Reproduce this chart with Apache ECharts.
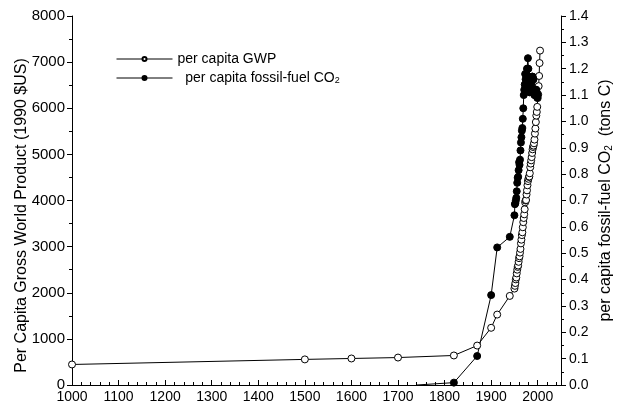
<!DOCTYPE html>
<html>
<head>
<meta charset="utf-8">
<script src="https://cdn.jsdelivr.net/npm/echarts@6/dist/echarts.min.js"></script>
<style>
  html, body { margin: 0; padding: 0; background: #fff; }
  #main { width: 619px; height: 407px; }
</style>
</head>
<body>
<div id="main"></div>
<script>
// per capita GWP (1990 $US)
var gwpYears = [1000, 1500, 1600, 1700, 1820, 1870, 1900, 1913, 1940,
    1950, 1951, 1952, 1953, 1954, 1955, 1956, 1957, 1958, 1959,
    1960, 1961, 1962, 1963, 1964, 1965, 1966, 1967, 1968, 1969,
    1970, 1971, 1972, 1973, 1974, 1975, 1976, 1977, 1978, 1979,
    1980, 1981, 1982, 1983, 1984, 1985, 1986, 1987, 1988, 1989,
    1990, 1991, 1992, 1993, 1994, 1995, 1996, 1997, 1998, 1999,
    2000, 2001, 2002, 2003, 2004, 2005];
var gwpValues = [445, 555, 575, 595, 640, 855, 1240, 1527, 1931,
    2090, 2150, 2210, 2290, 2330, 2420, 2500, 2560, 2590, 2670,
    2750, 2790, 2870, 2950, 3070, 3150, 3250, 3310, 3420, 3530,
    3620, 3700, 3810, 3960, 4000, 4010, 4130, 4220, 4330, 4420,
    4470, 4510, 4520, 4590, 4720, 4800, 4870, 4940, 5030, 5110,
    5160, 5190, 5240, 5320, 5450, 5560, 5700, 5840, 5920, 6030,
    6220, 6300, 6480, 6700, 6980, 7250];

// per capita fossil-fuel CO2 (tons C)
var co2Years = [1740, 1820, 1870, 1900, 1913, 1940,
    1950, 1951, 1952, 1953, 1954, 1955, 1956, 1957, 1958, 1959,
    1960, 1961, 1962, 1963, 1964, 1965, 1966, 1967, 1968, 1969,
    1970, 1971, 1972, 1973, 1974, 1975, 1976, 1977, 1978, 1979,
    1980, 1981, 1982, 1983, 1984, 1985, 1986, 1987, 1988, 1989,
    1990, 1991, 1992, 1993, 1994, 1995, 1996, 1997, 1998, 1999, 2000];
var co2Values = [0.0, 0.009, 0.110, 0.341, 0.522, 0.562,
    0.644, 0.686, 0.69, 0.70, 0.71, 0.735, 0.767, 0.786, 0.79, 0.815,
    0.845, 0.835, 0.855, 0.89, 0.92, 0.94, 0.965, 0.975, 1.01, 1.05,
    1.10, 1.12, 1.14, 1.18, 1.16, 1.14, 1.18, 1.20, 1.20, 1.24,
    1.20, 1.15, 1.12, 1.11, 1.12, 1.13, 1.14, 1.15, 1.17, 1.17,
    1.16, 1.16, 1.12, 1.10, 1.10, 1.11, 1.12, 1.12, 1.11, 1.09, 1.10];

var font = 'Liberation Sans, Arial, sans-serif';

var gwpData = gwpYears.map(function(y, i) { return [y, gwpValues[i]]; });
var co2Data = co2Years.map(function(y, i) {
    // the carbon curve starts as a bare line, no marker on its first point
    if (i === 0) return { value: [y, co2Values[i]], symbol: 'none' };
    return [y, co2Values[i]];
});

var black = '#000';
var axisLine = { show: true, lineStyle: { color: black, width: 1 } };

var myChart = echarts.init(document.getElementById('main'));
var option = {
    animation: false,
    backgroundColor: '#fff',
    textStyle: { fontFamily: font },
    grid: { left: 72, right: 58, top: 16, bottom: 22, outerBoundsMode: 'none', containLabel: false },
    legend: {
        orient: 'vertical',
        left: 111,
        top: 47,
        itemWidth: 56,
        itemHeight: 5,
        itemGap: 5,
        lineStyle: { width: 1 },
        textStyle: {
            color: black,
            fontSize: 14,
            fontFamily: font,
            rich: {
                t: { fontSize: 14, lineHeight: 14, color: black },
                s: { fontSize: 9, lineHeight: 8, verticalAlign: 'bottom', color: black }
            }
        },
        formatter: function(name) {
            if (name === 'co2') return '{t|  per capita fossil-fuel CO}{s|2}';
            return '{t|per capita GWP}';
        },
        data: ['gwp', 'co2']
    },
    xAxis: [{
        type: 'value',
        position: 'bottom',
        min: 1000,
        max: 2050,
        interval: 100,
        axisLine: axisLine,
        axisTick: { show: true, inside: true, length: 5, lineStyle: { color: black } },
        minorTick: { show: true, splitNumber: 5, length: 3, lineStyle: { color: black } },
        splitLine: { show: false },
        axisLabel: {
            color: black,
            fontSize: 14,
            margin: 5,
            formatter: function(v) { return v % 100 === 0 ? String(v) : ''; }
        }
    }, {
        type: 'value',
        position: 'top',
        min: 1000,
        max: 2050,
        interval: 100,
        axisLine: axisLine,
        axisTick: { show: true, inside: false, length: 5, lineStyle: { color: black } },
        minorTick: { show: true, splitNumber: 5, length: 3, lineStyle: { color: black } },
        splitLine: { show: false },
        axisLabel: { show: false }
    }],
    yAxis: [{
        type: 'value',
        position: 'left',
        min: 0,
        max: 8000,
        interval: 1000,
        axisLine: axisLine,
        axisTick: { show: true, length: 5, lineStyle: { color: black } },
        minorTick: { show: true, splitNumber: 2, length: 3, lineStyle: { color: black } },
        splitLine: { show: false },
        axisLabel: {
            color: black,
            fontSize: 15,
            margin: 7,
            formatter: function(v) { return String(v); }
        },
        name: 'Per Capita Gross World Product (1990 $US)',
        nameLocation: 'middle',
        nameRotate: 90,
        nameGap: 42,
        nameMoveOverlap: false,
        nameTextStyle: { color: black, fontSize: 16, fontFamily: font, padding: [0, 30, 0, 0] }
    }, {
        type: 'value',
        position: 'right',
        min: 0,
        max: 1.4,
        interval: 0.1,
        axisLine: axisLine,
        axisTick: { show: true, length: 5, lineStyle: { color: black } },
        minorTick: { show: true, splitNumber: 2, length: 3, lineStyle: { color: black } },
        splitLine: { show: false },
        axisLabel: {
            color: black,
            fontSize: 14,
            margin: 8,
            formatter: function(v) { return v.toFixed(1); }
        },
        name: '{t|per capita fossil-fuel CO}{s|2}{t|  (tons C)}',
        nameLocation: 'middle',
        nameRotate: 90,
        nameGap: 37,
        nameMoveOverlap: false,
        nameTextStyle: {
            color: black,
            fontSize: 16,
            fontFamily: font,
            rich: {
                t: { fontSize: 16, lineHeight: 16, color: black },
                s: { fontSize: 10, lineHeight: 8, verticalAlign: 'bottom', color: black }
            }
        }
    }],
    series: [{
        name: 'gwp',
        type: 'line',
        xAxisIndex: 0,
        yAxisIndex: 0,
        data: gwpData,
        symbol: 'circle',
        symbolSize: 7,
        lineStyle: { color: black, width: 1 },
        itemStyle: { color: '#fff', borderColor: black, borderWidth: 1 }
    }, {
        name: 'co2',
        type: 'line',
        xAxisIndex: 0,
        yAxisIndex: 1,
        data: co2Data,
        symbol: 'circle',
        symbolSize: 7,
        lineStyle: { color: black, width: 1 },
        itemStyle: { color: black, borderColor: black, borderWidth: 1 }
    }]
};
myChart.setOption(option);
</script>
</body>
</html>
